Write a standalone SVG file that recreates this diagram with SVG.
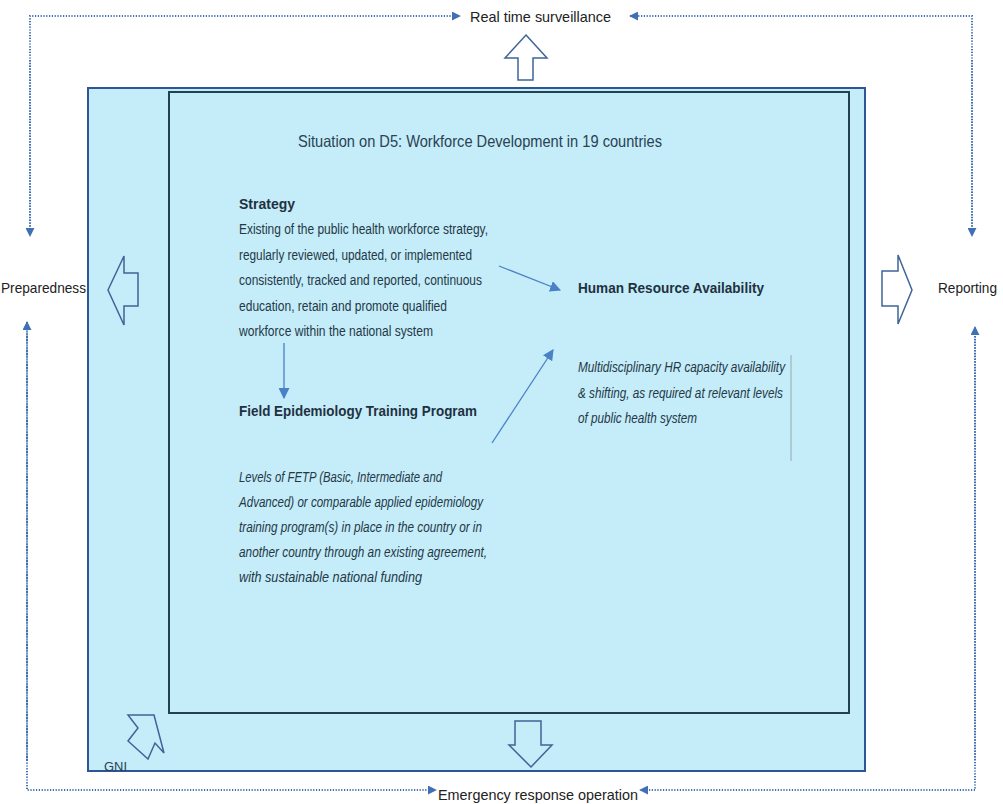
<svg xmlns="http://www.w3.org/2000/svg" width="1003" height="804" viewBox="0 0 1003 804">
  <defs>
    <style>
      text { font-family: "Liberation Sans Narrow", "Liberation Sans", Arial, sans-serif; }
      .lbl { font-size: 15px; fill: #222; }
      .title { font-size: 16.5px; fill: #2a4252; }
      .head { font-size: 15.5px; font-weight: bold; fill: #1f3140; }
      .body { font-size: 14px; fill: #243846; }
      .ital { font-size: 14px; font-style: italic; fill: #243846; }
      .dot { fill: none; stroke: #3f6fb5; stroke-width: 2; stroke-dasharray: 1.2 1.6; }
      .flow { fill: none; stroke: #4a80c6; stroke-width: 1.3; }
      .block { fill: none; stroke: #3f6498; stroke-width: 1.5; stroke-linejoin: miter; }
    </style>
    <marker id="tri" viewBox="0 0 10 10" refX="9" refY="5" markerWidth="9" markerHeight="9" markerUnits="userSpaceOnUse" orient="auto">
      <path d="M0,0 L10,5 L0,10 z" fill="#3f6fb5"/>
    </marker>
    <marker id="tri2" viewBox="0 0 10 10" refX="9" refY="5" markerWidth="11" markerHeight="11" markerUnits="userSpaceOnUse" orient="auto">
      <path d="M0,0 L10,5 L0,10 z" fill="#4a80c6"/>
    </marker>
  </defs>

  <rect width="1003" height="804" fill="#ffffff"/>

  <!-- frame boxes -->
  <g id="outer-frame">
    <rect x="88" y="88" width="777" height="683" fill="#c4ecf9" stroke="#2f5597" stroke-width="2"/>
  </g>
  <g id="inner-frame">
    <rect x="169" y="92" width="680" height="621" fill="#c4ecf9" stroke="#23424f" stroke-width="2"/>
  </g>

  <!-- dotted feedback loop -->
  <g id="connectors">
    <path class="dot" d="M30,235 V16 H460" marker-end="url(#tri)"/>
    <path class="dot" d="M972,235 V16 H630" marker-end="url(#tri)"/>
    <path class="dot" d="M27,323 V790 H436" marker-end="url(#tri)"/>
    <path class="dot" d="M975,328 V790 H640" marker-end="url(#tri)"/>
    <path class="dot" d="M30,60 V236" marker-end="url(#tri)"/>
    <path class="dot" d="M972,60 V236" marker-end="url(#tri)"/>
    <path class="dot" d="M27,760 V322" marker-end="url(#tri)"/>
    <path class="dot" d="M975,760 V327" marker-end="url(#tri)"/>

    <!-- inner flow arrows -->
    <path class="flow" d="M284,343 V398" marker-end="url(#tri2)"/>
    <path class="flow" d="M499,266 L560,290" marker-end="url(#tri2)"/>
    <path class="flow" d="M492,443 L553,350" marker-end="url(#tri2)"/>
  </g>

  <!-- block arrows -->
  <g id="arrow-up">
    <polygon class="block" fill="#ffffff" points="526,35 547,58 533,58 533,80 518,80 518,58 505,58"/>
  </g>
  <g id="arrow-left">
    <polygon class="block" points="108,290 124,256 124,273 138,273 138,306 124,306 124,325"/>
  </g>
  <g id="arrow-right">
    <polygon class="block" fill="#ffffff" points="912,290 898,255 898,271 882,271 882,306 898,306 898,324"/>
  </g>
  <g id="arrow-down">
    <polygon class="block" points="531,767 552,745 541,745 541,721 515,721 515,745 509,745"/>
  </g>
  <g id="arrow-gni">
    <polygon class="block" points="128,715 154,715 164,753 155,743 148,759 128,741 138,728"/>
  </g>

  <!-- outside labels -->
  <g id="real-time-surveillance">
    <text class="lbl" x="470" y="22" textLength="141" lengthAdjust="spacingAndGlyphs">Real time surveillance</text>
  </g>
  <g id="preparedness">
    <text class="lbl" x="1" y="293" textLength="85" lengthAdjust="spacingAndGlyphs">Preparedness</text>
  </g>
  <g id="reporting">
    <text class="lbl" x="938" y="293" textLength="59" lengthAdjust="spacingAndGlyphs">Reporting</text>
  </g>
  <g id="emergency-response">
    <text class="lbl" x="438" y="800" textLength="200" lengthAdjust="spacingAndGlyphs">Emergency response operation</text>
  </g>
  <g id="gni">
    <text x="104" y="771" font-size="12.5" fill="#2a4252" textLength="23" lengthAdjust="spacingAndGlyphs">GNI</text>
  </g>

  <!-- content -->
  <g id="title">
    <text class="title" x="298" y="147" textLength="364" lengthAdjust="spacingAndGlyphs">Situation on D5: Workforce Development in 19 countries</text>
  </g>

  <g id="strategy">
    <text class="head" x="239" y="209" textLength="56" lengthAdjust="spacingAndGlyphs">Strategy</text>
    <text class="body" x="239" y="234" textLength="249" lengthAdjust="spacingAndGlyphs">Existing of the public health workforce strategy,</text>
    <text class="body" x="239" y="260" textLength="233" lengthAdjust="spacingAndGlyphs">regularly reviewed, updated, or implemented</text>
    <text class="body" x="239" y="285" textLength="243" lengthAdjust="spacingAndGlyphs">consistently, tracked and reported, continuous</text>
    <text class="body" x="239" y="311" textLength="208" lengthAdjust="spacingAndGlyphs">education, retain and promote qualified</text>
    <text class="body" x="239" y="336" textLength="194" lengthAdjust="spacingAndGlyphs">workforce within the national system</text>
  </g>

  <g id="human-resource">
    <text class="head" x="578" y="293" textLength="186" lengthAdjust="spacingAndGlyphs">Human Resource Availability</text>
    <text class="ital" x="578" y="372" textLength="207" lengthAdjust="spacingAndGlyphs">Multidisciplinary HR capacity availability</text>
    <text class="ital" x="578" y="398" textLength="205" lengthAdjust="spacingAndGlyphs">&amp; shifting, as required at relevant levels</text>
    <text class="ital" x="578" y="423" textLength="119" lengthAdjust="spacingAndGlyphs">of public health system</text>
    <line x1="791" y1="355" x2="791" y2="461" stroke="#9aa8b0" stroke-width="1"/>
  </g>

  <g id="fetp">
    <text class="head" x="239" y="416" textLength="238" lengthAdjust="spacingAndGlyphs">Field Epidemiology Training Program</text>
    <text class="ital" x="239" y="482" textLength="203" lengthAdjust="spacingAndGlyphs">Levels of FETP (Basic, Intermediate and</text>
    <text class="ital" x="239" y="507" textLength="244" lengthAdjust="spacingAndGlyphs">Advanced) or comparable applied epidemiology</text>
    <text class="ital" x="239" y="532" textLength="243" lengthAdjust="spacingAndGlyphs">training program(s) in place in the country or in</text>
    <text class="ital" x="239" y="557" textLength="248" lengthAdjust="spacingAndGlyphs">another country through an existing agreement,</text>
    <text class="ital" x="239" y="582" textLength="183" lengthAdjust="spacingAndGlyphs">with sustainable national funding</text>
  </g>
</svg>
